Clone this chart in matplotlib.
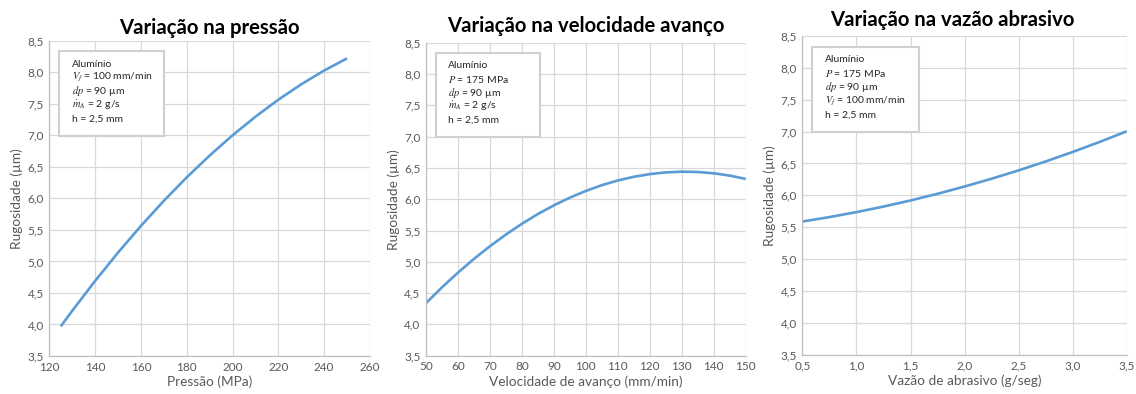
import matplotlib
matplotlib.use('Agg')
import matplotlib.pyplot as plt
from matplotlib.patches import Rectangle
from matplotlib.ticker import FuncFormatter

plt.rcParams['font.family'] = ['Lato', 'DejaVu Sans']
plt.rcParams['mathtext.fontset'] = 'stix'

# pressão (MPa) x rugosidade (um)
pressao = [125, 130, 140, 150, 160, 170, 180, 190, 200, 210, 220, 230, 240, 250]
rug_pressao = [3.970, 4.217, 4.691, 5.140, 5.563, 5.961, 6.333, 6.679, 7.000, 7.295, 7.565, 7.809, 8.027, 8.220]

# velocidade de avanço (mm/min) x rugosidade (um)
velocidade = [50, 55, 60, 65, 70, 75, 80, 85, 90, 95, 100, 105, 110, 115, 120, 125, 130, 135, 140, 145, 150]
rug_velocidade = [4.340, 4.592, 4.827, 5.046, 5.249, 5.436, 5.608, 5.763, 5.902, 6.025, 6.132, 6.224, 6.299,
                  6.358, 6.401, 6.428, 6.440, 6.435, 6.414, 6.377, 6.324]

# vazão de abrasivo (g/seg) x rugosidade (um)
vazao = [0.5, 0.75, 1.0, 1.25, 1.5, 1.75, 2.0, 2.25, 2.5, 2.75, 3.0, 3.25, 3.5]
rug_vazao = [5.590, 5.659, 5.737, 5.824, 5.920, 6.025, 6.139, 6.261, 6.392, 6.532, 6.681, 6.839, 7.006]

titulos = ['Variação na pressão', 'Variação na velocidade avanço', 'Variação na vazão abrasivo']
rotulos_x = ['Pressão (MPa)', 'Velocidade de avanço (mm/min)', 'Vazão de abrasivo (g/seg)']
rotulo_y = 'Rugosidade (µm)'

ticks_x = [list(range(120, 261, 20)), list(range(50, 151, 10)), [0.5, 1.0, 1.5, 2.0, 2.5, 3.0, 3.5]]
ticks_y = [3.5, 4.0, 4.5, 5.0, 5.5, 6.0, 6.5, 7.0, 7.5, 8.0, 8.5]

legendas = [
    ['Alumínio', r'$V_f$ = 100 mm/min', r'$dp$ = 90 µm', r'$\dot{m}_A$ = 2 g/s', 'h = 2,5 mm'],
    ['Alumínio', r'$P$ = 175 MPa', r'$dp$ = 90 µm', r'$\dot{m}_A$ = 2 g/s', 'h = 2,5 mm'],
    ['Alumínio', r'$P$ = 175 MPa', r'$dp$ = 90 µm', r'$V_f$ = 100 mm/min', 'h = 2,5 mm'],
]

xs = [pressao, velocidade, vazao]
ys = [rug_pressao, rug_velocidade, rug_vazao]

# posições dos eixos em fração da figura
posicoes = [
    [0.0434, 0.0964, 0.2823, 0.8003],
    [0.3750, 0.0972, 0.2814, 0.7944],
    [0.7063, 0.0997, 0.2856, 0.8089],
]
pads_titulo = [5.0, 7.6, 6.9]
x_titulo = [0.5, 0.5, 0.4615]

cinza_texto = '#595959'
cinza_grade = '#d9d9d9'
azul = '#5b9bd5'

virgula = FuncFormatter(lambda v, p: ('%.1f' % v).replace('.', ','))
inteiro = FuncFormatter(lambda v, p: '%d' % v)

fig = plt.figure(figsize=(11.36, 3.94), dpi=100)

for i in range(3):
    ax = fig.add_axes(posicoes[i])
    ax.plot(xs[i], ys[i], color=azul, lw=1.9, solid_capstyle='butt')

    ax.set_xlim(ticks_x[i][0], ticks_x[i][-1])
    ax.set_ylim(3.5, 8.5)
    ax.set_xticks(ticks_x[i])
    ax.set_yticks(ticks_y)
    ax.yaxis.set_major_formatter(virgula)
    ax.xaxis.set_major_formatter(virgula if i == 2 else inteiro)

    ax.grid(True, color=cinza_grade, lw=0.9)
    ax.set_axisbelow(True)
    for lado in ['top', 'right']:
        ax.spines[lado].set_visible(False)
    for lado in ['left', 'bottom']:
        ax.spines[lado].set_color('#bfbfbf')
        ax.spines[lado].set_linewidth(0.9)
    ax.tick_params(length=0, labelsize=8.5, colors=cinza_texto, pad=4)

    ax.set_xlabel(rotulos_x[i], fontsize=9.8, color=cinza_texto, labelpad=2)
    ax.set_ylabel(rotulo_y, fontsize=9.8, color=cinza_texto, labelpad=3)
    ax.set_title(titulos[i], fontsize=14.6, fontweight='bold', pad=pads_titulo[i], x=x_titulo[i])

    # caixa com os parâmetros do ensaio
    ax.add_patch(Rectangle((0.03, 0.698), 0.328, 0.269, transform=ax.transAxes,
                           facecolor='white', edgecolor='#d0d0d0', lw=1.5, zorder=5))
    for k, linha in enumerate(legendas[i]):
        ax.text(0.07, 0.926 - k * 0.0435, linha, transform=ax.transAxes, fontsize=7.5,
                va='center', ha='left', color='#262626', zorder=6)

fig.savefig('out.png', dpi=100)
